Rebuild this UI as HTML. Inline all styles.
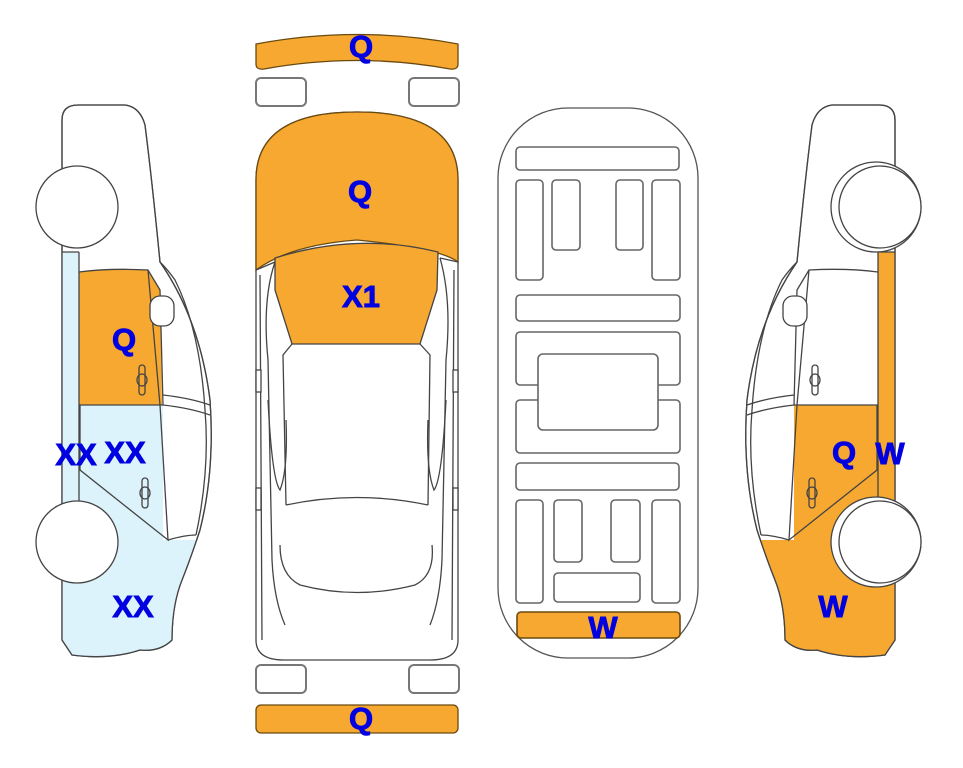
<!DOCTYPE html>
<html><head><meta charset="utf-8"><style>
html,body{margin:0;padding:0;background:#fff;width:963px;height:768px;overflow:hidden}
svg{display:block}
text{font-family:"Liberation Sans",Arial,sans-serif;font-weight:bold;fill:#0000e0;stroke:#0000e0;stroke-width:0.9;font-size:31px;text-anchor:middle}
</style></head><body>
<svg width="963" height="768" viewBox="0 0 963 768" xmlns="http://www.w3.org/2000/svg">
<defs>
<path id="body" d="M72,655 L62,640 L62,120 Q62,105 78,105 L125,105 Q140,107 145,125 Q152,180 160,262 Q200,320 210,400 Q215,470 200,530 Q190,560 182,580 Q172,605 172,640 Q160,652 140,650 Q110,660 72,655 Z"/>
<clipPath id="cb"><use href="#body"/></clipPath>
</defs>

<!-- LEFT CAR -->
<g stroke="#444" stroke-width="1.3" fill="none">
<use href="#body" fill="#fff"/>
<g clip-path="url(#cb)" stroke="none">
<rect x="62" y="252" width="17" height="260" fill="#ddf3fb"/>
<path d="M79,405 L163,405 L163,540 L230,540 L230,700 L62,700 L62,505 L79,505Z" fill="#ddf3fb"/>
<path d="M79,272 Q110,268 148,270 L160,290 L162,405 L79,405Z" fill="#f7a830"/>
</g>
<use href="#body"/>
<line x1="62" y1="252" x2="79" y2="252"/>
<line x1="79" y1="252" x2="79" y2="505"/>
<path d="M79,272 Q110,268 148,270 L160,290 L163,405"/>
<path d="M148,270 L160,405 L168,540 L80,470 L80,405 L163,405"/>
<path d="M160,262 Q168,270 175,280 Q200,330 205,410 Q210,470 196,535"/>
<path d="M163,405 Q190,408 210,415 M163,395 Q190,398 210,405"/>
<path d="M168,540 Q185,535 196,535"/>
<rect x="150" y="296" width="24" height="30" rx="10" fill="#fff"/>
<rect x="139" y="365" width="6" height="30" rx="3"/>
<ellipse cx="142" cy="380" rx="5" ry="6"/>
<rect x="142" y="478" width="6" height="30" rx="3"/>
<ellipse cx="145" cy="493" rx="5" ry="6"/>
<circle cx="77" cy="207" r="41" fill="#fff"/>
<circle cx="77" cy="542" r="41" fill="#fff"/>
</g>

<!-- RIGHT CAR (mirror) -->
<g transform="translate(957,0) scale(-1,1)" stroke="#444" stroke-width="1.3" fill="none">
<use href="#body" fill="#fff"/>
<g clip-path="url(#cb)" stroke="none">
<rect x="62" y="252" width="17" height="260" fill="#f7a830"/>
<path d="M79,405 L163,405 L163,540 L230,540 L230,700 L62,700 L62,505 L79,505Z" fill="#f7a830"/>
</g>
<use href="#body"/>
<line x1="62" y1="252" x2="79" y2="252"/>
<line x1="79" y1="252" x2="79" y2="505"/>
<path d="M79,272 Q110,268 148,270 L160,290 L163,405"/>
<path d="M148,270 L160,405 L168,540 L80,470 L80,405 L163,405"/>
<path d="M160,262 Q168,270 175,280 Q200,330 205,410 Q210,470 196,535"/>
<path d="M163,405 Q190,408 210,415 M163,395 Q190,398 210,405"/>
<path d="M168,540 Q185,535 196,535"/>
<rect x="150" y="296" width="24" height="30" rx="10" fill="#fff"/>
<rect x="139" y="365" width="6" height="30" rx="3"/>
<ellipse cx="142" cy="380" rx="5" ry="6"/>
<rect x="142" y="478" width="6" height="30" rx="3"/>
<ellipse cx="145" cy="493" rx="5" ry="6"/>
<circle cx="81" cy="207" r="45" fill="#fff"/>
<circle cx="77" cy="207" r="41" fill="#fff"/>
<circle cx="81" cy="542" r="45" fill="#fff"/>
<circle cx="77" cy="542" r="41" fill="#fff"/>
</g>

<!-- CENTER TOP VIEW -->
<g stroke="#444" stroke-width="1.3" fill="none">
<path d="M256,44 Q357,25 458,44 L458,64 Q458,70 450,69 Q357,52 264,69 Q256,70 256,64Z" fill="#f7a830" stroke="#6a4a10"/>
<rect x="256" y="78" width="50" height="28" rx="5" fill="#fff" stroke="#777" stroke-width="2"/>
<rect x="409" y="78" width="50" height="28" rx="5" fill="#fff" stroke="#777" stroke-width="2"/>
<path d="M256,270 L256,180 Q256,112 357,112 Q458,112 458,180 L458,640 Q458,660 430,660 L284,660 Q256,660 256,640Z" fill="#fff"/>
<path d="M256,270 L256,180 Q256,112 357,112 Q458,112 458,180 L458,262 Q440,248 357,240 Q290,245 256,270Z" fill="#f7a830" stroke="#6a4a10"/>
<path d="M275,258 Q357,232 438,252 L437,290 L420,344 L292,344 L275,290Z" fill="#f7a830"/>
<path d="M256,270 L275,262 M458,262 L440,258"/>
<path d="M275,262 Q262,300 268,360 L272,560 Q274,600 285,625 M440,258 Q452,300 446,360 L442,560 Q440,600 430,625"/>
<path d="M260,275 L262,640 M454,270 L452,640"/>
<path d="M292,344 L283,355 L286,505 M420,344 L430,355 L428,505"/>
<path d="M286,505 Q357,490 428,505 M280,545 Q280,575 300,585 Q357,600 415,585 Q435,575 432,545"/>
<path d="M268,400 Q272,480 280,490 Q288,470 286,420 M446,400 Q442,480 434,490 Q426,470 428,420"/>
<rect x="256" y="370" width="5" height="22" fill="#fff"/><rect x="453" y="370" width="5" height="22" fill="#fff"/>
<rect x="256" y="488" width="5" height="22" fill="#fff"/><rect x="453" y="488" width="5" height="22" fill="#fff"/>
<rect x="256" y="665" width="50" height="28" rx="5" fill="#fff" stroke="#777" stroke-width="2"/>
<rect x="409" y="665" width="50" height="28" rx="5" fill="#fff" stroke="#777" stroke-width="2"/>
<rect x="256" y="705" width="202" height="28" rx="5" fill="#f7a830" stroke="#6a4a10"/>
</g>

<!-- UNDERSIDE -->
<g stroke="#666" stroke-width="1.6" fill="#fff">
<rect x="498" y="108" width="200" height="550" rx="70" stroke="#555" stroke-width="1.3"/>
<rect x="516" y="147" width="163" height="23" rx="4"/>
<rect x="516" y="180" width="27" height="100" rx="4"/>
<rect x="552" y="180" width="28" height="70" rx="4"/>
<rect x="616" y="180" width="27" height="70" rx="4"/>
<rect x="652" y="180" width="28" height="100" rx="4"/>
<rect x="516" y="295" width="164" height="26" rx="4"/>
<rect x="516" y="332" width="164" height="53" rx="4"/>
<rect x="516" y="400" width="164" height="53" rx="4"/>
<rect x="538" y="354" width="120" height="76" rx="5"/>
<rect x="516" y="463" width="163" height="27" rx="4"/>
<rect x="516" y="500" width="27" height="103" rx="4"/>
<rect x="554" y="500" width="28" height="62" rx="4"/>
<rect x="611" y="500" width="29" height="62" rx="4"/>
<rect x="652" y="500" width="28" height="103" rx="4"/>
<rect x="554" y="573" width="86" height="29" rx="4"/>
<rect x="517" y="612" width="163" height="26" rx="4" fill="#f7a830" stroke="#6a4a10"/>
</g>

<text x="361" y="57">Q</text>
<text x="360" y="202">Q</text>
<text x="361" y="307">X1</text>
<text x="124" y="350">Q</text>
<text x="76" y="465">XX</text>
<text x="125" y="463">XX</text>
<text x="133" y="617">XX</text>
<text x="603" y="638">W</text>
<text x="361" y="729">Q</text>
<text x="844" y="463">Q</text>
<text x="890" y="464">W</text>
<text x="833" y="617">W</text>
</svg>
</body></html>
